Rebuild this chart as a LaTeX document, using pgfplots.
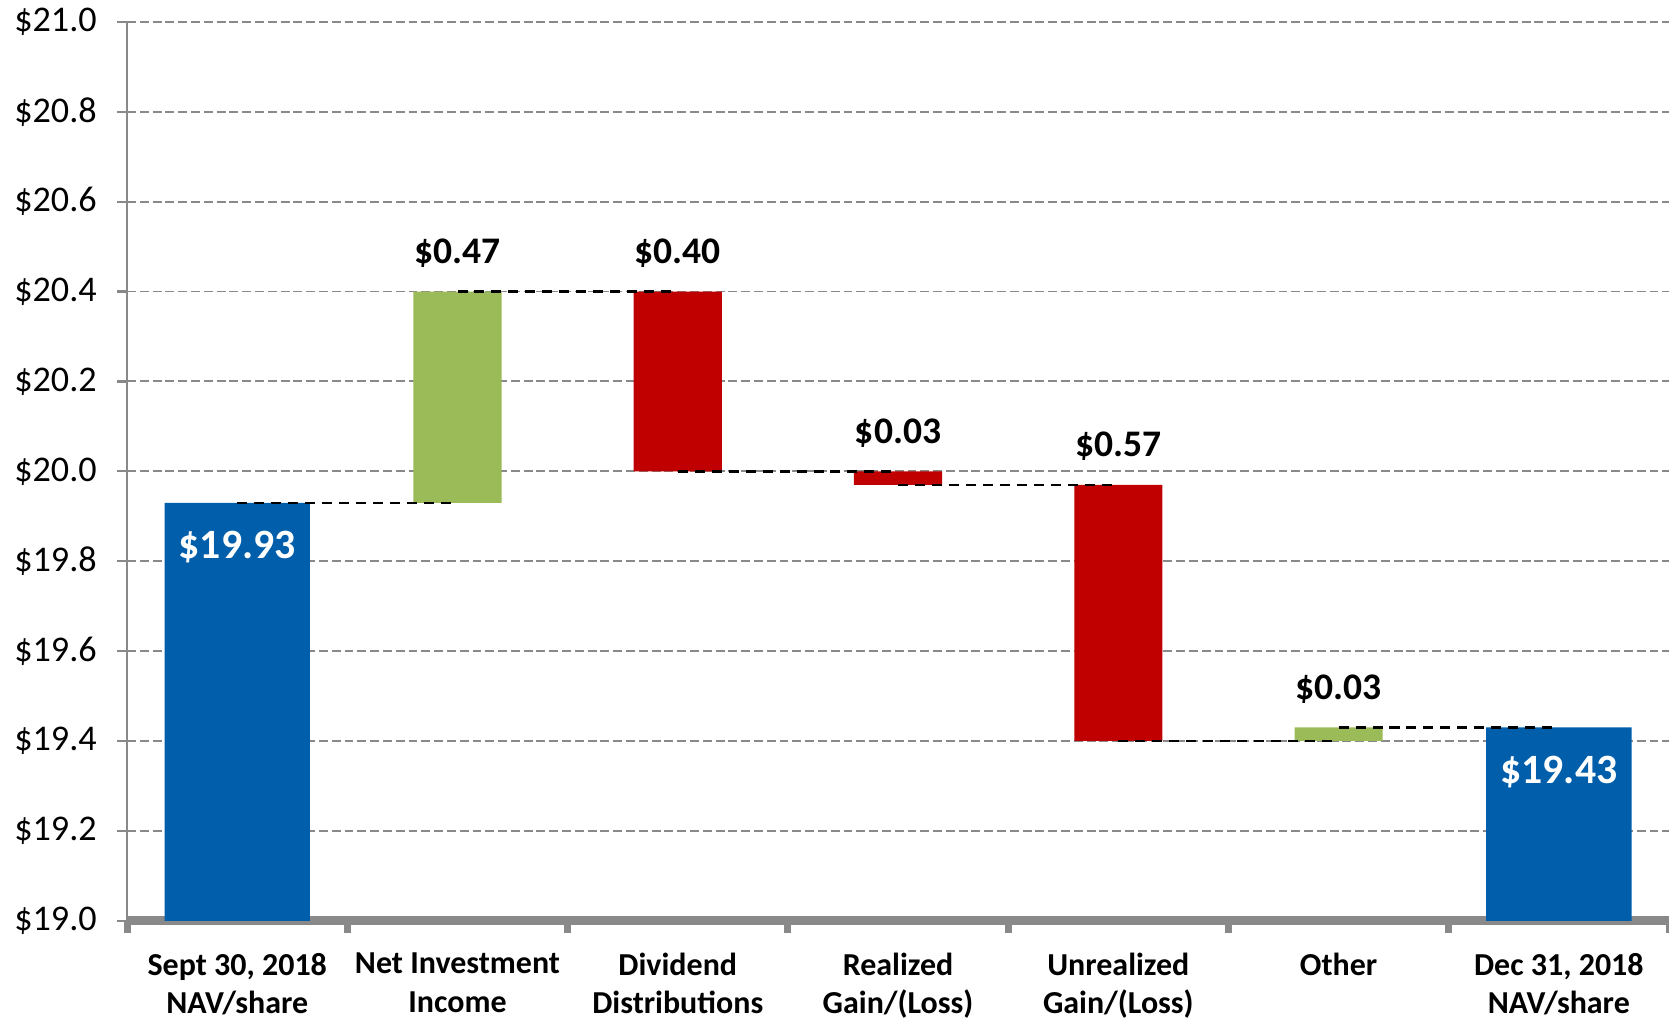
\documentclass[border=0pt]{standalone}
\usepackage{fontspec}
\setmainfont{Carlito}
\usepackage{pgfplots}
\pgfplotsset{compat=1.18}
\definecolor{navblue}{RGB}{0,94,170}
\definecolor{incgreen}{RGB}{155,187,89}
\definecolor{decred}{RGB}{192,0,0}
\definecolor{axgray}{RGB}{137,137,137}
\pgfplotsset{
  common/.style={
    scale only axis, width=554.4pt, height=323.2pt,
    xmin=-0.5, xmax=6.5, ymin=19, ymax=21,
  }
}
\begin{document}
\begin{tikzpicture}
\begin{axis}[common,
  ybar stacked,
  axis x line*=bottom, axis y line*=left,
  x axis line style={-, line width=3.2pt, color=axgray},
  y axis line style={-, line width=0.8pt, color=axgray},
  xtick={0,1,2,3,4,5,6},
  xticklabels={{Sept 30, 2018\\NAV/share},{Net Investment\\Income},{Dividend\\Distributions},{Realized\\Gain/(Loss)},{Unrealized\\Gain/(Loss)},{Other},{Dec 31, 2018\\NAV/share}},
  xticklabel style={align=center, font=\fontsize{11.5}{13.8}\selectfont\bfseries, text=black, yshift=-4.5pt},
  major x tick style={draw=none},
  minor xtick={-0.5,0.5,1.5,2.5,3.5,4.5,5.5,6.5},
  minor x tick style={line width=2.5pt, color=axgray},
  minor tick length=4.5pt,
  major tick length=3.6pt,
  tick align=outside,
  ytick={19,19.2,19.4,19.6,19.8,20,20.2,20.4,20.6,20.8,21},
  yticklabel={\$\pgfmathprintnumber[fixed,fixed zerofill,precision=1]{\tick}},
  /pgf/number format/assume math mode=true,
  yticklabel style={font=\fontsize{13}{15}\selectfont, text=black, xshift=-3.8pt},
  y tick style={color=axgray, line width=0.8pt},
  ymajorgrids,
  y grid style={axgray, line width=0.7pt, dash pattern=on 3.2pt off 1.4pt},
]
\addplot[fill=none, draw=none, bar width=0.4] coordinates {(0,0) (1,19.93) (2,20.00) (3,19.97) (4,19.40) (5,19.40) (6,0)};
\addplot[fill=navblue, draw=none, bar width=0.66] coordinates {(0,19.93) (1,0) (2,0) (3,0) (4,0) (5,0) (6,19.43)};
\addplot[fill=incgreen, draw=none, bar width=0.4] coordinates {(0,0) (1,0.47) (2,0) (3,0) (4,0) (5,0.03) (6,0)};
\addplot[fill=decred, draw=none, bar width=0.4] coordinates {(0,0) (1,0) (2,0.40) (3,0.03) (4,0.57) (5,0) (6,0)};
\end{axis}
\begin{axis}[common, hide axis]
\addplot[black, line width=0.9pt, dash pattern=on 3.6pt off 2.5pt] coordinates {(0,19.93) (1,19.93)};
\addplot[black, line width=0.9pt, dash pattern=on 3.6pt off 2.5pt] coordinates {(1,20.40) (2,20.40)};
\addplot[black, line width=0.9pt, dash pattern=on 3.6pt off 2.5pt] coordinates {(2,20.00) (3,20.00)};
\addplot[black, line width=0.9pt, dash pattern=on 3.6pt off 2.5pt] coordinates {(3,19.97) (4,19.97)};
\addplot[black, line width=0.9pt, dash pattern=on 3.6pt off 2.5pt] coordinates {(4,19.40) (5,19.40)};
\addplot[black, line width=0.9pt, dash pattern=on 3.6pt off 2.5pt] coordinates {(5,19.43) (6,19.43)};
\begin{scope}[every node/.style={font=\fontsize{13.5}{15}\selectfont\bfseries, text=black, anchor=center, yshift=13.9pt}]
\node at (axis cs:1,20.40) {\$0.47};
\node at (axis cs:2,20.40) {\$0.40};
\node at (axis cs:3,20.00) {\$0.03};
\node at (axis cs:4,19.97) {\$0.57};
\node at (axis cs:5,19.43) {\$0.03};
\end{scope}
\begin{scope}[every node/.style={font=\fontsize{15}{18}\selectfont\bfseries, text=white, anchor=center, yshift=-16pt}]
\node at (axis cs:0,19.93) {\$19.93};
\node at (axis cs:6,19.43) {\$19.43};
\end{scope}
\end{axis}
\pgfresetboundingbox
\path[use as bounding box] (-45.7pt,-35.2pt) rectangle (554.4pt,331.1pt);
\end{tikzpicture}
\end{document}
